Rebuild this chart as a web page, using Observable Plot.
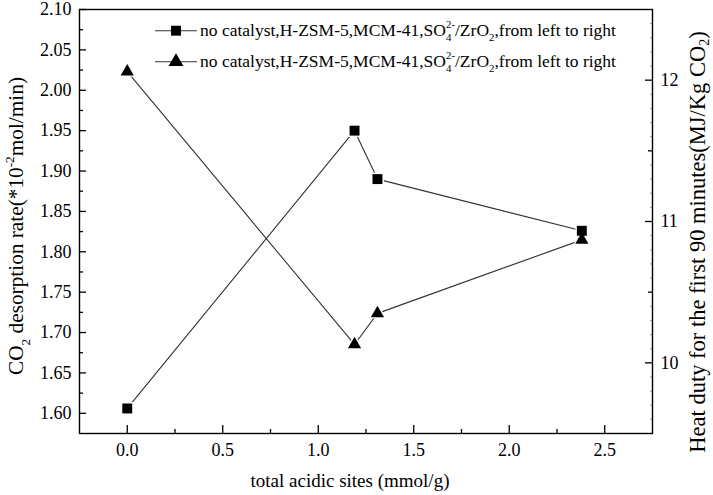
<!DOCTYPE html>
<html>
<head>
<meta charset="utf-8">
<script src="https://cdn.jsdelivr.net/npm/d3@7"></script>
<script src="https://cdn.jsdelivr.net/npm/@observablehq/plot@0.6"></script>
<style>
  body { margin: 0; background: #fff; }
  #chart { position: relative; width: 713px; height: 495px; }
</style>
</head>
<body>
<div id="chart"></div>
<script>
// ---- data ----
const acidSites      = [0, 1.19, 1.31, 2.38];          // mmol/g
const desorptionRate = [1.606, 1.95, 1.89, 1.826];     // *10^-2 mol/min (left axis)
const heatDuty       = [12.06, 10.13, 10.35, 10.87];   // MJ/Kg CO2 (right axis)

const xTicks      = [0, 0.5, 1.0, 1.5, 2.0, 2.5];
const xMinorTicks = [0.25, 0.75, 1.25, 1.75, 2.25];
const yTicks      = [1.60, 1.65, 1.70, 1.75, 1.80, 1.85, 1.90, 1.95, 2.00, 2.05, 2.10];
const yMinorTicks = [1.625, 1.675, 1.725, 1.775, 1.825, 1.875, 1.925, 1.975, 2.025, 2.075];
const rightTicks      = [10, 11, 12];
const rightHalfTicks  = [10.5, 11.5];
const rightMinorTicks = [9.6, 9.7, 9.8, 9.9, 10.1, 10.2, 10.3, 10.4, 10.6, 10.7, 10.8, 10.9,
                         11.1, 11.2, 11.3, 11.4, 11.6, 11.7, 11.8, 11.9, 12.1, 12.2, 12.3, 12.4];

const legendLabel = "no catalyst,H-ZSM-5,MCM-41,SO";

// ---- scales ----
const xDomain = [-0.25, 2.75];
const yDomain = [1.575, 2.10];
const rDomain = [9.5, 12.5];
// map right-axis values onto the left y scale
const toLeft = v => yDomain[0] + (v - rDomain[0]) * (yDomain[1] - yDomain[0]) / (rDomain[1] - rDomain[0]);
const fromLeft = y => rDomain[0] + (y - yDomain[0]) * (rDomain[1] - rDomain[0]) / (yDomain[1] - yDomain[0]);

const squares   = acidSites.map((x, i) => ({x, y: desorptionRate[i]}));
const triangles = acidSites.map((x, i) => ({x, y: toLeft(heatDuty[i]), v: heatDuty[i]}));

const font = "'Liberation Serif', 'Times New Roman', serif";
const lineColor = "#333";
const rSq = 5.6, rTri = 4.9;

const chart = Plot.plot({
  width: 713,
  height: 495,
  marginLeft: 79,
  marginRight: 61,
  marginTop: 9,
  marginBottom: 62,
  style: { fontFamily: font, fontSize: "18px", background: "white", color: "black", overflow: "visible" },
  x: { domain: xDomain, label: null },
  y: { domain: yDomain, label: null },
  marks: [
    Plot.line(squares,   { x: "x", y: "y", stroke: lineColor, strokeWidth: 1.1 }),
    Plot.line(triangles, { x: "x", y: "y", stroke: lineColor, strokeWidth: 1.1 }),
    Plot.dot(squares,   { x: "x", y: "y", symbol: "square",   r: rSq + 1.6, fill: "white" }),
    Plot.dot(triangles, { x: "x", y: "y", symbol: "triangle", r: rTri + 1.6, fill: "white" }),
    Plot.dot(squares,   { x: "x", y: "y", symbol: "square",   r: rSq, fill: "black" }),
    Plot.dot(triangles, { x: "x", y: "y", symbol: "triangle", r: rTri, fill: "black" }),

    // x axis
    Plot.axisX(xTicks, { tickSize: 0, tickPadding: 10, tickFormat: d3.format(".1f"), label: null }),
    Plot.axisX(xTicks, { tickSize: -8, fill: "none", label: null, strokeWidth: 1.3 }),
    Plot.axisX(xMinorTicks, { tickSize: -4, fill: "none", label: null, strokeWidth: 1.3 }),

    // left y axis
    Plot.axisY(yTicks, { tickSize: 0, tickPadding: 8, tickFormat: d3.format(".2f"), label: null }),
    Plot.axisY(yTicks, { tickSize: -7, fill: "none", label: null, strokeWidth: 1.3 }),
    Plot.axisY(yMinorTicks, { tickSize: -4, fill: "none", label: null, strokeWidth: 1.3 }),

    // right y axis (heat duty)
    Plot.axisY(rightTicks.map(toLeft), { anchor: "right", tickSize: 0, tickPadding: 8,
      tickFormat: d => String(Math.round(fromLeft(d))), label: null }),
    Plot.axisY(rightTicks.map(toLeft), { anchor: "right", tickSize: -8, fill: "none", label: null, strokeWidth: 1.3 }),
    Plot.axisY(rightHalfTicks.map(toLeft), { anchor: "right", tickSize: -5, fill: "none", label: null, strokeWidth: 1.3 }),
    Plot.axisY(rightMinorTicks.map(toLeft), { anchor: "right", tickSize: -2.5, fill: "none", label: null, strokeWidth: 0.8, strokeOpacity: 0.7 }),

    Plot.frame({ stroke: "black", strokeWidth: 1.4 })
  ]
});

document.getElementById("chart").appendChild(chart);

// ---- rich text helpers (sub/superscripts) ----
const svg = d3.select(chart);

function addRich(segs, { x = 0, y = 0, size = 16, anchor = "start", transform = null, subShift = 0.32 }) {
  const t = svg.append("text")
    .attr("x", x).attr("y", y)
    .attr("font-size", size)
    .attr("font-family", font)
    .attr("text-anchor", anchor)
    .attr("fill", "black");
  if (transform) t.attr("transform", transform);
  let level = 0;
  for (const s of segs) {
    const target = s.sub ? size * subShift : s.sup ? -size * 0.42 : 0;
    const ts = t.append("tspan").text(s.t).attr("dy", target - level);
    if (s.sub || s.sup) ts.attr("font-size", size * 0.62);
    if (s.dx) ts.attr("dx", s.dx);
    level = target;
  }
  return t;
}

// axis titles
addRich([{ t: "total acidic sites (mmol/g)" }], { x: 350, y: 487, size: 19, anchor: "middle" });

addRich([
  { t: "CO" }, { t: "2", sub: true }, { t: " desorption rate(*10" }, { t: "-2", sup: true }, { t: "mol/min)" }
], { size: 21.3, anchor: "middle", transform: "translate(23,226) rotate(-90)" });

addRich([
  { t: "Heat duty for the first 90 minutes(MJ/Kg CO" }, { t: "2", sub: true }, { t: ")" }
], { size: 22.5, anchor: "middle", transform: "translate(704.5,242) rotate(-90)", subShift: 0.22 });

// legend
const legendRows = [
  { y: 30.7, symbol: d3.symbolSquare,   r: rSq },
  { y: 61.7, symbol: d3.symbolTriangle, r: rTri + 0.6 }
];
const legSize = 17.5;
for (const row of legendRows) {
  svg.append("line")
    .attr("x1", 155).attr("x2", 197).attr("y1", row.y).attr("y2", row.y)
    .attr("stroke", lineColor).attr("stroke-width", 1.1);
  svg.append("path")
    .attr("transform", `translate(176,${row.y})`)
    .attr("d", d3.symbol(row.symbol, row.r * row.r * Math.PI)())
    .attr("fill", "black");
  addRich([
    { t: legendLabel }, { t: "4", sub: true }, { t: "2-", sup: true, dx: -legSize * 0.62 * 0.5 },
    { t: "/ZrO" }, { t: "2", sub: true }, { t: ",from left to right" }
  ], { x: 200, y: row.y + 4.8, size: legSize });
}
</script>
</body>
</html>
